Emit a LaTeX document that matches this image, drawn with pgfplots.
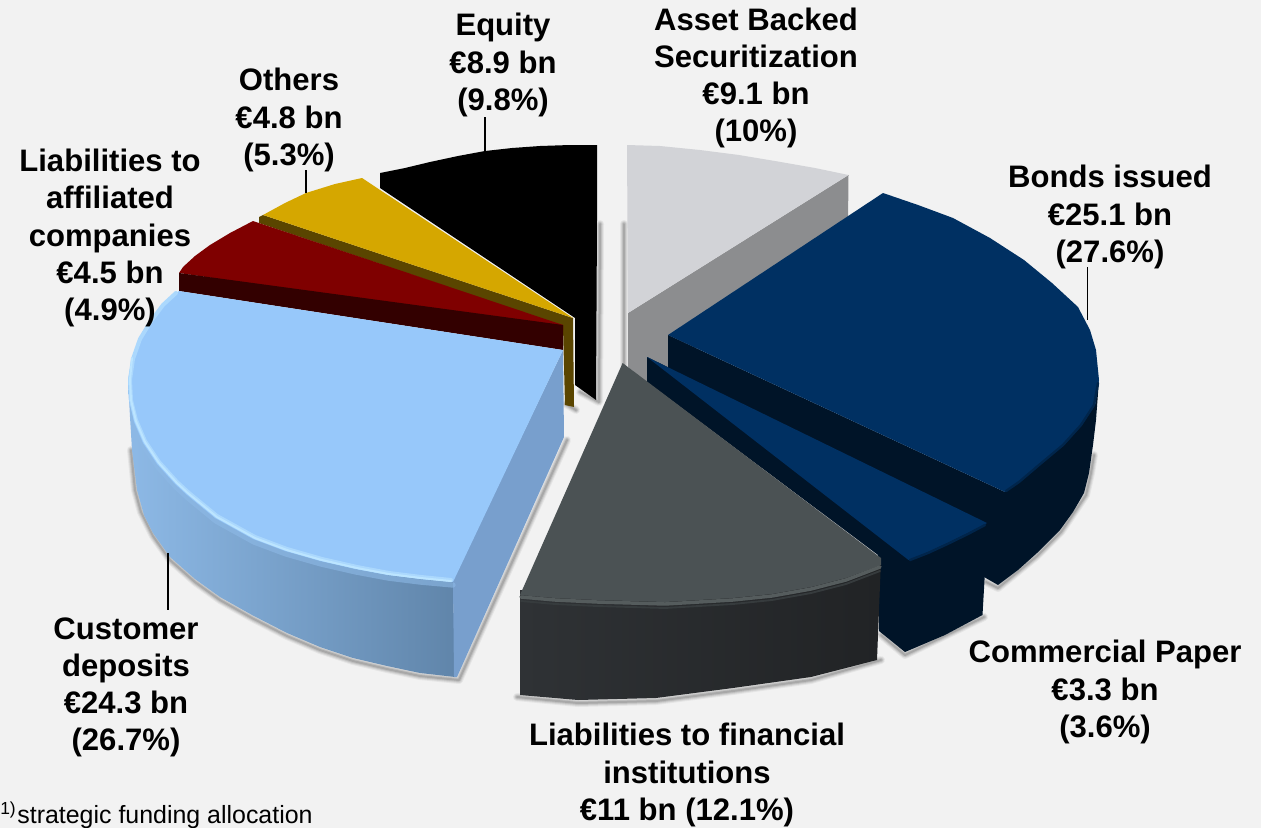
\documentclass[border=0pt]{standalone}
\usepackage{pgfplots}
\pgfplotsset{compat=1.18}
\usepackage{fontspec}
\setmainfont{Liberation Sans}
\definecolor{bg}{HTML}{F2F2F2}
\definecolor{goldtop}{HTML}{D5A700}
\definecolor{goldside}{HTML}{5A4500}
\definecolor{redtop}{HTML}{7F0000}
\definecolor{redside}{HTML}{330000}
\definecolor{bluetop}{HTML}{97C8FA}
\definecolor{bluerim}{HTML}{BCE5FF}
\definecolor{bluefl}{HTML}{8DB9E6}
\definecolor{bluefr}{HTML}{6085AA}
\definecolor{blueface}{HTML}{789FCD}
\definecolor{greytop}{HTML}{D2D3D7}
\definecolor{greyside}{HTML}{8C8D8F}
\definecolor{navytop}{HTML}{003062}
\definecolor{navyside}{HTML}{001428}
\definecolor{darktop}{HTML}{4B5254}
\definecolor{darkrim}{HTML}{5E6567}
\definecolor{darkl}{HTML}{2F3235}
\definecolor{darkr}{HTML}{212325}
\newcommand{\lab}[3]{\node[align=center,font=\fontsize{23.3}{27.8}\selectfont\bfseries,inner sep=0pt] at (axis cs:#1,#2) {#3};}
\newcommand{\shadow}[1]{%
\addplot[draw=black,opacity=.05,line width=6pt,fill=none] coordinates {#1};
\addplot[draw=black,opacity=.07,line width=4.5pt,fill=none] coordinates {#1};
\addplot[draw=black,opacity=.09,line width=3pt,fill=none] coordinates {#1};
\addplot[draw=black,opacity=.12,line width=1.5pt,fill=none] coordinates {#1};}
\begin{document}
\begin{tikzpicture}
\path[use as bounding box,clip] (0,0) rectangle (945.75pt,621pt);
\begin{axis}[at={(0,0)},anchor=south west,scale only axis,width=945.75pt,height=621pt,
 xmin=0,xmax=1261,ymin=0,ymax=828,y dir=reverse,hide axis,clip=false,
 every axis plot/.append style={no markers,line join=round,line cap=round},
 slice/.style={draw=none,fill=#1}]
% background
\addplot[slice=bg] coordinates {(0,0)(1261,0)(1261,828)(0,828)} --cycle;
% shadows
\shadow{(600,224)(599,402)(580,392)}
\shadow{(624,224)(624,365)}
\shadow{(566,404)(576,410)}
\shadow{(567,440)(459,680)(420,676)(387,669)(353,661)(320,650)(287,636)(252,618)(220,600)(195,582)(170,560)(153,536)(141,512)(135,490)(131,450)}
\shadow{(881,660)(811,680)(733,691)(656,701)(578,703)(517,697)}
\shadow{(881,635)(905,655)(984,617)}
\shadow{(986,582)(998,588)(1037,556)(1061,532)(1086,495)(1091,473)(1094,455)}
% black
\addplot[slice=black] coordinates {(380,188)(380,173)(405,168)(430,162)(458,156)(485,151)(512,148)(540,146)(570,145)(597,145)(597,220)(596,400)(575,385)(575,318)} --cycle;
% gold
\addplot[slice=goldside] coordinates {(259,217)(259,223)(563,326)(565,405)(574,407)(573,318)(263,215)} --cycle;
\addplot[slice=goldtop] coordinates {(263,215)(285,203)(306,193)(335,184)(362,178)(573,318)} --cycle;
% red
\addplot[slice=redtop] coordinates {(179,273)(183,267)(195,256)(210,245)(230,233)(253,221)(259,223)(563,325)(563,330)} --cycle;
\addplot[slice=redside] coordinates {(179,273)(179,291)(563,350)(563,325)} --cycle;
% light blue
\addplot[draw=none,left color=bluefl,right color=bluefr] coordinates {(128,380)(130,417)(132,450)(137,490)(144,515)(153,533)(170,557)(195,579)(220,597)(252,615)(287,633)(320,647)(353,658)(387,666)(420,673)(455,677)(453,575)(420,570)(387,565)(320,552)(253,530)(187,486)} --cycle;
\addplot[slice=blueface] coordinates {(453,580)(563,350)(564,437)(457,677)(454,677)} --cycle;
\addplot[draw=bluefl,opacity=.6,line width=4pt] coordinates {(134,425)(144,446)(158,467)(176,487)(188,498)(216,521)(254,542)(286,554)(321,564)(356,572)(388,578)(420,582)(453,585)};
\addplot[slice=bluetop] coordinates {(179,291)(563,350)(453,582)(420,579)(387,575)(355,569)(320,561)(285,551)(253,539)(215,518)(187,495)(175,484)(157,464)(143,443)(134,422)(129,400)(128,380)(132,358)(139,338)(150,320)(163,304)} --cycle;
\addplot[draw=bluerim!55!bluetop,line width=3pt] coordinates {(176,293)(163,305)(151,321)(140,339)(133,359)(130,380)(131,400)(136,420)(145,441)(159,462)(177,482)(189,493)(217,516)(255,537)(287,549)(322,559)(357,567)(389,573)(421,577)(451,580)};
\addplot[draw=bluerim,line width=1.5pt] coordinates {(132,358)(130,380)(131,400)(136,421)(145,442)(159,463)(177,483)(189,494)(217,517)(255,538)(287,550)(322,560)(357,568)(389,574)(421,578)(451,581)};
% grey
\addplot[slice=greyside] coordinates {(628,313)(848.5,175)(848,225)(650,385)(628,367)} --cycle;
\addplot[slice=greytop] coordinates {(627,145)(660,146)(700,150)(739,155)(775,161)(815,168)(848.5,175)(628,313)} --cycle;
% bonds
\addplot[slice=navyside] coordinates {(668,335)(1005,492)(1064,445)(1095,405)(1099,380)(1096,420)(1093,445)(1089,473)(1084,493)(1073,512)(1060,530)(1037,553)(1018,570)(998,585)(984,577)(984,535)(668,372)} --cycle;
\addplot[slice=navytop] coordinates {(668,335)(883,193)(918,205)(953,218)(990,238)(1024,260)(1052,283)(1078,307)(1090,330)(1096,350)(1099,380)(1095,405)(1082,425)(1064,445)(1040,465)(1020,482)(1005,492)} --cycle;
\addplot[draw=navytop!60!navyside,line width=1.8pt] coordinates {(1098,383)(1094,405)(1081,425)(1063,445)(1039,465)(1019,482)(1006,491)};
% commercial paper
\addplot[slice=navyside] coordinates {(647,357)(987,523)(984.5,580)(982.5,615)(945,635)(905,652)(879,631)(878,555)(647,382)} --cycle;
\addplot[slice=navytop] coordinates {(647,357)(987,523)(968,533)(947.5,543)(928,552)(908.5,560)} --cycle;
\addplot[draw=navytop!60!navyside,line width=1.8pt] coordinates {(985,525)(968,534)(947.5,544)(928,553)(910,560)};
% financial institutions
\addplot[draw=none,left color=darkl,right color=darkr] coordinates {(520,590)(520,695)(578,700)(656,698)(733,688)(811,677)(877,660)(881,560)(811,580)(733,590)(656,595)(597,592)} --cycle;
\addplot[slice=darktop] coordinates {(622.6,363)(881,558)(881,565)(846,578)(811,587)(772,594)(733,598)(665,602)(597,600)(555,598)(520,595)} --cycle;
\addplot[draw=darkrim!50!darktop,line width=2.6pt] coordinates {(521,597)(555,600)(597,602)(665,604)(733,600)(772,596)(811,589)(846,580)(880,567)};
\addplot[draw=darkr!50!darktop,line width=1.4pt] coordinates {(521,601)(555,604)(597,606)(665,608)(733,604)(772,600)(811,593)(846,584)(880,571)};
% leader lines
\addplot[draw=black,line width=1.1pt,line cap=butt] coordinates {(485,117)(485,151)};
\addplot[draw=black,line width=1.1pt,line cap=butt] coordinates {(306,170)(306,193)};
\addplot[draw=black,line width=1.1pt,line cap=butt] coordinates {(1087.5,267)(1087.5,320)};
\addplot[draw=black,line width=1.1pt,line cap=butt] coordinates {(168,553)(168,610)};
% labels
\lab{756}{78}{Asset Backed\\Securitization\\€9.1 bn\\(10\%)}
\lab{503}{65}{Equity\\€8.9 bn\\(9.8\%)}
\lab{289}{120}{Others\\€4.8 bn\\(5.3\%)}
\lab{110}{238}{Liabilities to\\affiliated\\companies\\€4.5 bn\\(4.9\%)}
\lab{1110}{217}{Bonds issued\\€25.1 bn\\(27.6\%)}
\lab{1105}{692}{Commercial Paper\\€3.3 bn\\(3.6\%)}
\lab{687}{775}{Liabilities to financial\\institutions\\€11 bn (12.1\%)}
\lab{126}{687}{Customer\\deposits\\€24.3 bn\\(26.7\%)}
\node[anchor=base west,inner sep=0pt,font=\fontsize{18.7}{20}\selectfont] at (axis cs:0,823) {\textsuperscript{1)}\hspace{-4.5pt} strategic funding allocation};
\end{axis}
\end{tikzpicture}
\end{document}
